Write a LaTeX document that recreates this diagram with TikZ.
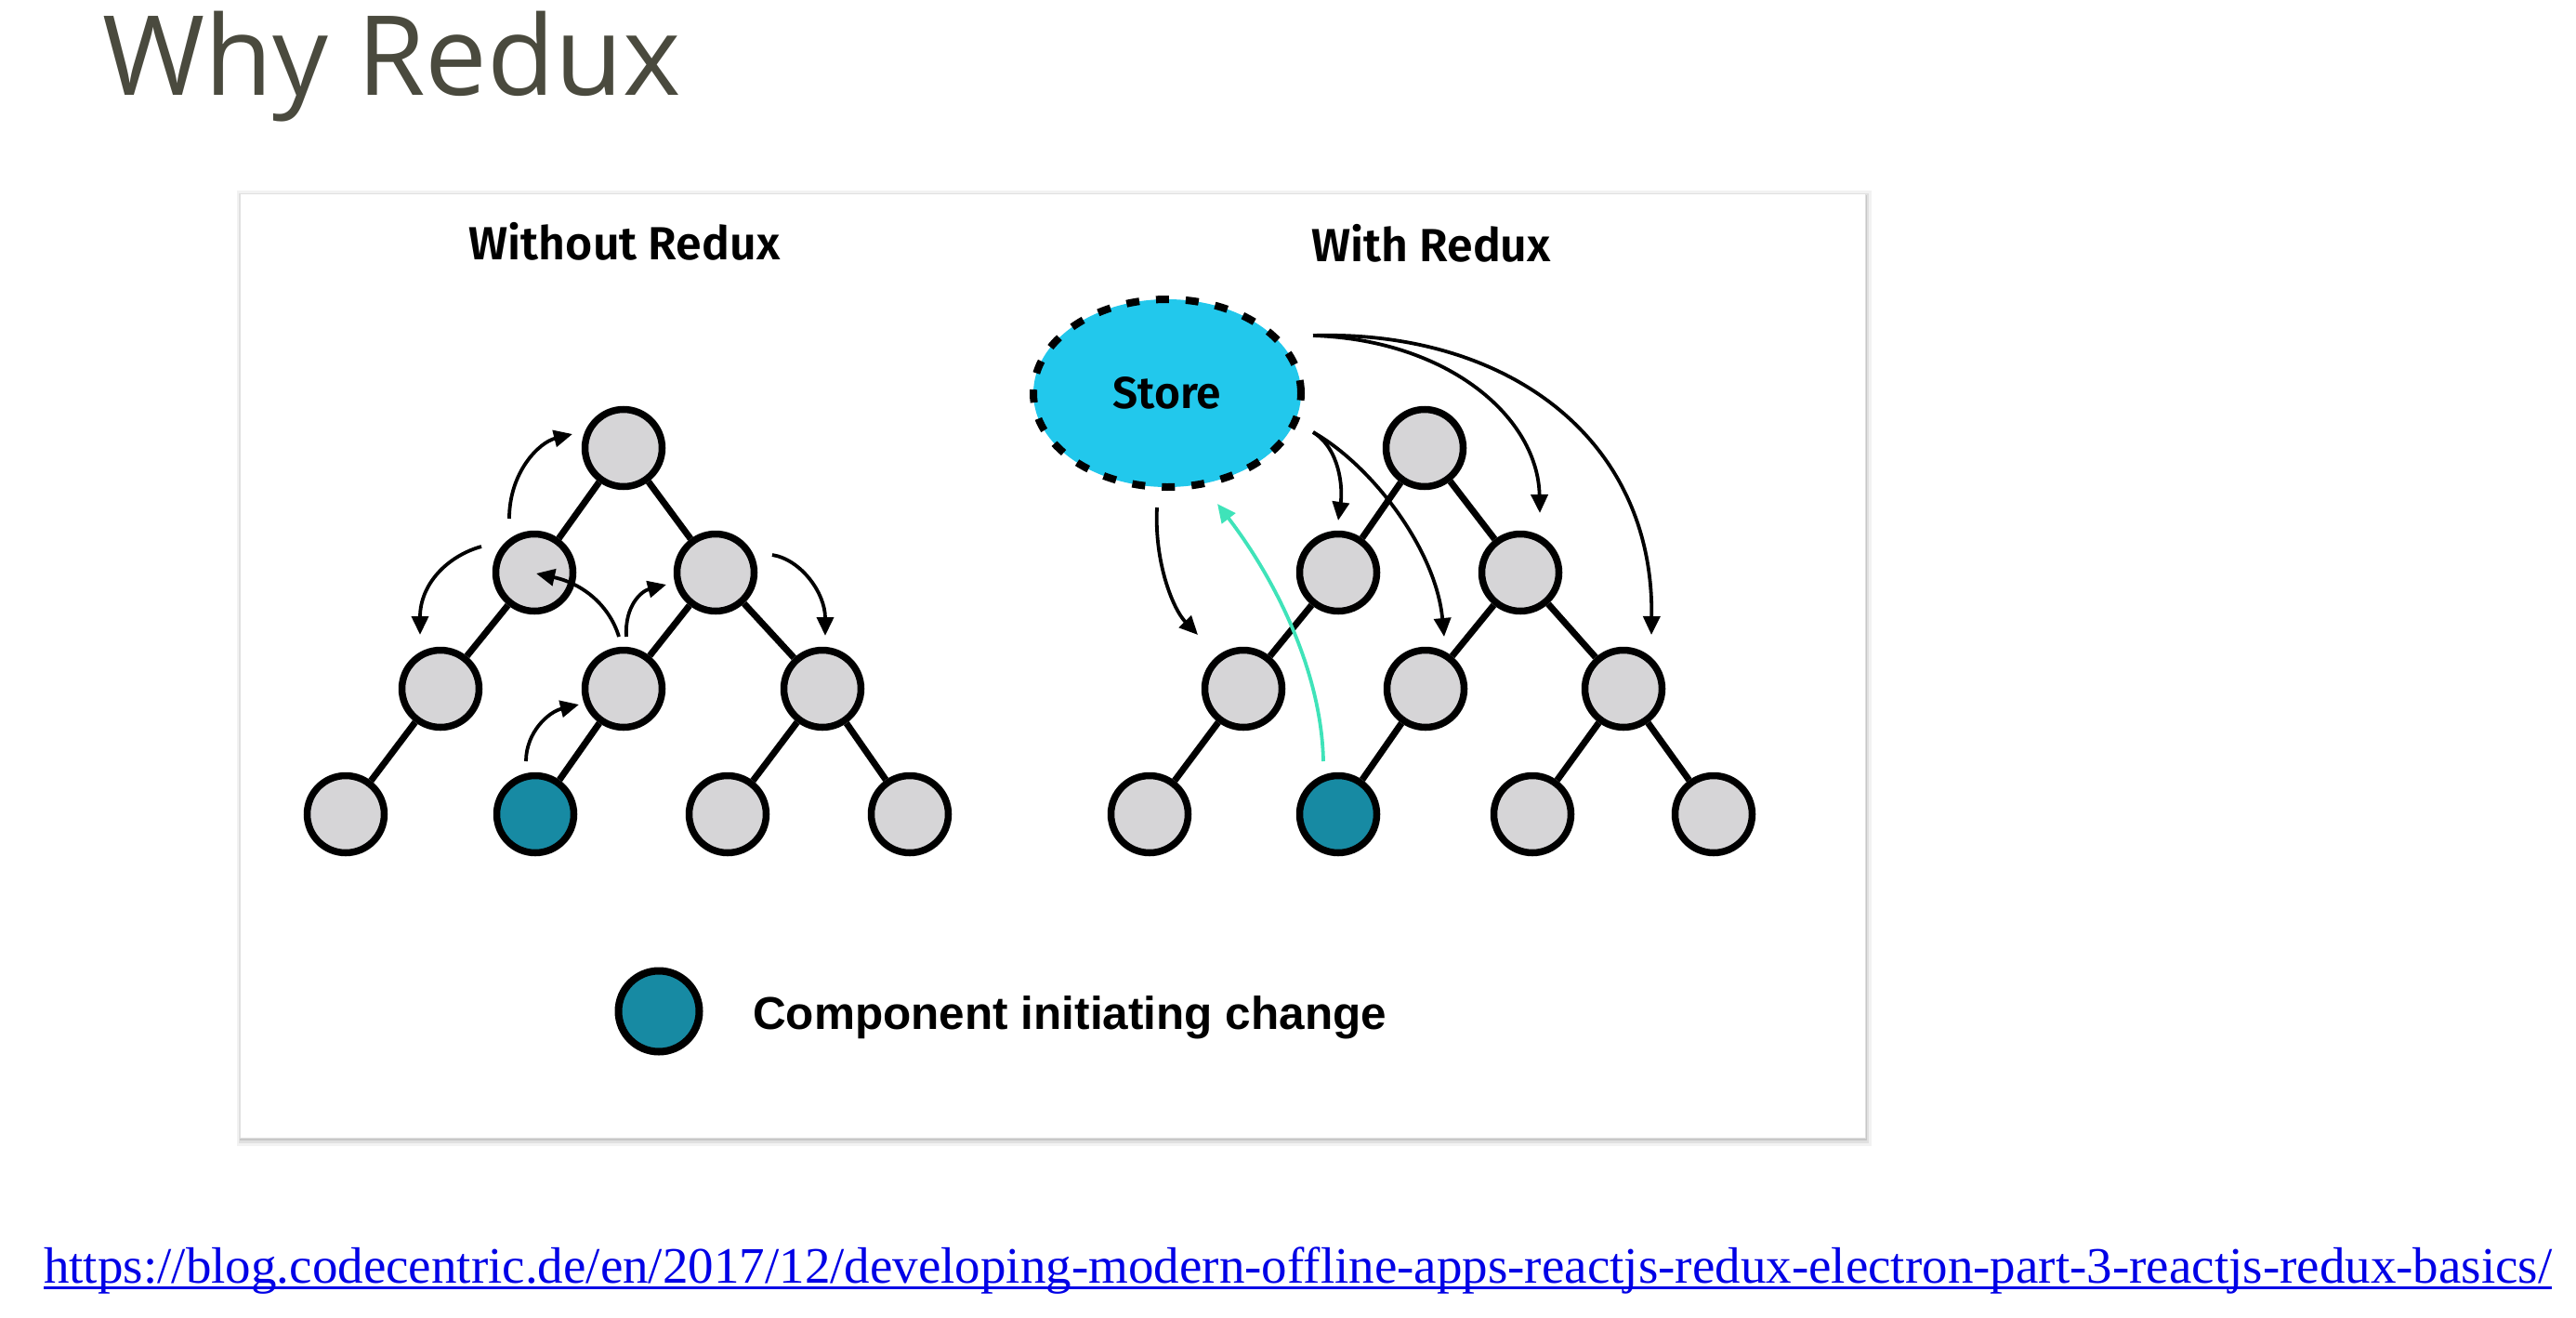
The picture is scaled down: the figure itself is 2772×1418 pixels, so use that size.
\documentclass[tikz,border=0pt]{standalone}
\usepackage{fontspec}
\setmainfont{Liberation Serif}
\newfontfamily\titlefont{Open Sans}
\newfontfamily\hfont{Fira Sans}[BoldFont=* SemiBold]
\newfontfamily\legfont{Liberation Sans}
\usetikzlibrary{shapes.geometric,arrows.meta}
\definecolor{titlegray}{HTML}{4A4A3E}
\definecolor{nodegray}{HTML}{D6D5D7}
\definecolor{initteal}{HTML}{178AA3}
\definecolor{storecyan}{HTML}{22C8EC}
\definecolor{mint}{HTML}{3FE3B9}
\definecolor{linkblue}{HTML}{0000E6}
\begin{document}
\begin{tikzpicture}[x=1pt,y=-1pt,
  comp/.style={circle, draw=black, line width=7.5pt, fill=nodegray, minimum size=83pt, inner sep=0pt},
  init/.style={comp, fill=initteal},
  edge/.style={line width=7pt, draw=black},
  flow/.style={line width=3.8pt, draw=black, -{Triangle[length=20pt,width=18pt]}},
  push/.style={flow, draw=mint, -{Triangle[length=20pt,width=18pt,fill=mint]}},
  header/.style={anchor=base, inner sep=0pt, font=\hfont\bfseries\fontsize{50}{58}\selectfont}
]
\useasboundingbox (0,0) rectangle (2772,1418);
\fill[white] (0,0) rectangle (2772,1418);

% title
\node[anchor=base west, inner sep=0pt, text=titlegray, font=\titlefont\fontsize{119}{130}\selectfont] (title) at (110,103) {Why Redux};

% panel with shadow
\fill[black!5] (255,205) rectangle (2014,1233);
\fill[black!12] (257,208) rectangle (2011,1230);
\fill[black!22] (258,210) rectangle (2009,1227);
\fill[white] (258,208) rectangle (2007,1224);
\draw[black!12, line width=1pt] (258,208) rectangle (2007,1224);

% headers
\node[header] (h1) at (672,279) {Without Redux};
\node[header] (h2) at (1540,281) {With Redux};

% left tree
\node[comp] (La) at (671,482) {};
\node[comp] (Lb) at (575,616) {};
\node[comp] (Lc) at (770,616) {};
\node[comp] (Ld) at (474,741) {};
\node[comp] (Le) at (671,741) {};
\node[comp] (Lf) at (885,741) {};
\node[comp] (Lg) at (372,876) {};
\node[init] (Lh) at (576,876) {};
\node[comp] (Li) at (783,876) {};
\node[comp] (Lj) at (979,876) {};
\foreach \p/\c in {La/Lb,La/Lc,Lb/Ld,Lc/Le,Lc/Lf,Ld/Lg,Le/Lh,Lf/Li,Lf/Lj}
  \draw[edge] (\p) -- (\c);

% right tree
\node[comp] (Ra) at (1533,482) {};
\node[comp] (Rb) at (1440,616) {};
\node[comp] (Rc) at (1636,616) {};
\node[comp] (Rd) at (1338,741) {};
\node[comp] (Re) at (1534,741) {};
\node[comp] (Rf) at (1747,741) {};
\node[comp] (Rg) at (1237,876) {};
\node[init] (Rh) at (1440,876) {};
\node[comp] (Ri) at (1649,876) {};
\node[comp] (Rj) at (1844,876) {};
\foreach \p/\c in {Ra/Rb,Ra/Rc,Rb/Rd,Rc/Re,Rc/Rf,Rd/Rg,Re/Rh,Rf/Ri,Rf/Rj}
  \draw[edge] (\p) -- (\c);

% store
\node[ellipse, draw=black, fill=storecyan, line width=8pt, dash pattern=on 14pt off 18pt,
  minimum width=288pt, minimum height=202pt, inner sep=0pt,
  font=\hfont\bfseries\fontsize{48}{56}\selectfont] (store) at (1256,423) {Store};

% left arrows
\coordinate (a1s) at (548,558); \coordinate (a1e) at (616,467);
\coordinate (a2s) at (518,588); \coordinate (a2e) at (452,683);
\coordinate (a3s) at (666,685); \coordinate (a3e) at (577,617);
\coordinate (a4s) at (674,685); \coordinate (a4e) at (717,629);
\coordinate (a5s) at (831,597); \coordinate (a5e) at (888,684);
\coordinate (a6s) at (566,819); \coordinate (a6e) at (623,758);
\draw[flow] (a1s) .. controls (548,508) and (580,476) .. (a1e);
\draw[flow] (a2s) .. controls (482,598) and (452,628) .. (a2e);
\draw[flow] (a3s) .. controls (656,652) and (628,628) .. (a3e);
\draw[flow] (a4s) .. controls (672,652) and (690,636) .. (a4e);
\draw[flow] (a5s) .. controls (862,602) and (888,638) .. (a5e);
\draw[flow] (a6s) .. controls (566,788) and (590,766) .. (a6e);

% right arrows
\coordinate (b1s) at (1245,546); \coordinate (b1e) at (1289,683);
\coordinate (b2s) at (1413,361); \coordinate (b2e) at (1657,552);
\coordinate (b3e) at (1777,683);
\coordinate (b4s) at (1413,465); \coordinate (b4e) at (1440,560);
\coordinate (b5e) at (1554,685);
\coordinate (b6s) at (1424,819); \coordinate (b6e) at (1310,542);
\draw[flow] (b1s) .. controls (1242,605) and (1262,655) .. (b1e);
\draw[flow] (b2s) .. controls (1560,366) and (1655,450) .. (b2e);
\draw[flow] (b2s) .. controls (1620,355) and (1780,470) .. (b3e);
\draw[flow] (b4s) .. controls (1442,483) and (1445,525) .. (b4e);
\draw[flow] (b4s) .. controls (1475,500) and (1545,590) .. (b5e);
\draw[push] (b6s) .. controls (1422,720) and (1370,620) .. (b6e);

% legend
\node[init, minimum size=87pt, line width=8pt] (legdot) at (709,1088) {};
\node[anchor=base west, inner sep=0pt, font=\legfont\bfseries\fontsize{49.5}{58}\selectfont] (legtext) at (810,1107) {Component initiating change};

% source url
\node[anchor=base west, inner sep=0pt, text=linkblue, font=\fontsize{55}{64}\selectfont] (url) at (47,1380) {https://blog.codecentric.de/en/2017/12/developing-modern-offline-apps-reactjs-redux-electron-part-3-reactjs-redux-basics/};
\draw[linkblue, line width=3pt] ([yshift=-5pt]url.base west) -- ([yshift=-5pt]url.base east);
\end{tikzpicture}
\end{document}
